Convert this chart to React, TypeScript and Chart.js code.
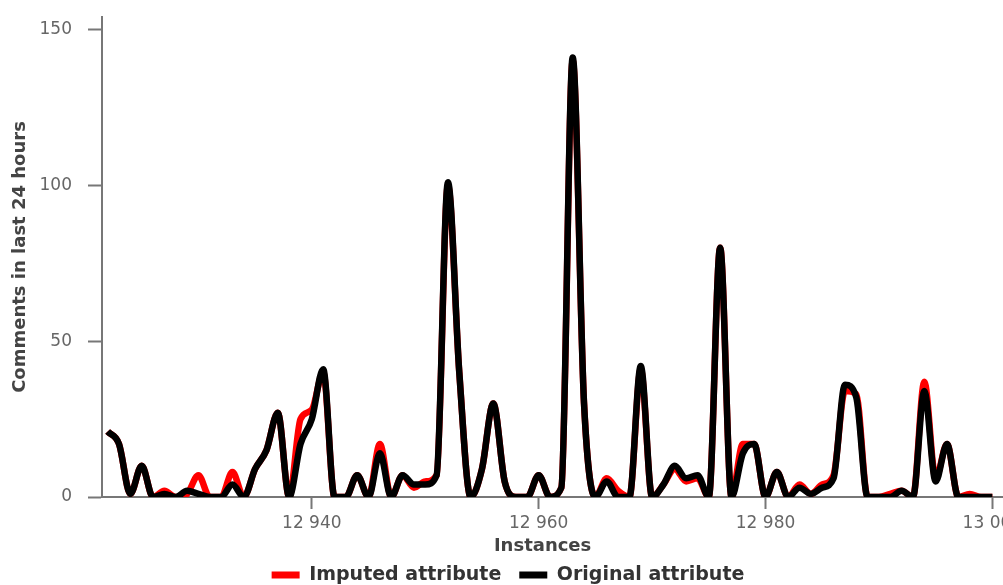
import React, { useEffect, useRef } from "react";
import { Chart, registerables } from "chart.js";

Chart.register(...registerables);

const firstInstance = 12922;
const imputedValues = [
  21, 17, 1, 10, 0, 2, 0, 1, 7, 0,
  0, 8, 0, 9, 15, 27, 0, 25, 28, 40,
  0, 0, 7, 0, 17, 0, 7, 3, 5, 7,
  100, 40, 0, 9, 30, 5, 0, 0, 7, 0,
  3, 140, 30, 0, 6, 2, 0, 41, 0, 4,
  9, 5, 6, 0, 80, 0, 17, 17, 0, 8,
  0, 4, 1, 4, 7, 34, 33, 0, 0, 1,
  2, 0, 37, 6, 17, 0, 1, 0, 0,
];
const originalValues = [
  21, 17, 1, 10, 0, 1, 0, 2, 1, 0,
  0, 4, 0, 9, 15, 27, 0, 17, 25, 41,
  0, 0, 7, 0, 14, 0, 7, 4, 4, 7,
  101, 40, 0, 9, 30, 5, 0, 0, 7, 0,
  3, 141, 30, 0, 5, 0, 0, 42, 0, 4,
  10, 6, 7, 0, 80, 0, 14, 17, 0, 8,
  0, 3, 1, 3, 6, 36, 32, 0, 0, 0,
  2, 0, 34, 5, 17, 0, 0, 0, 0,
];
const instances = originalValues.map((_, i) => firstInstance + i);
const xTicks = [12940, 12960, 12980, 13000];
const yTicks = [0, 50, 100, 150];
const seriesNames = ["Imputed attribute", "Original attribute"];
const seriesColors = ["#ff0000", "#000000"];

const fmt = (v: number) => {
  const s = String(Math.round(v));
  return s.replace(/\B(?=(\d{3})+(?!\d))/g, " ");
};

export default function App() {
  const ref = useRef<HTMLCanvasElement | null>(null);
  useEffect(() => {
    if (!ref.current) return;
    const font = "'DejaVu Sans', sans-serif";
    const chart = new Chart(ref.current, {
      type: "line",
      data: {
        datasets: [
          {
            label: seriesNames[0],
            data: instances.map((x, i) => ({ x, y: imputedValues[i] })),
            borderColor: seriesColors[0],
            backgroundColor: seriesColors[0],
            borderWidth: 6.5,
            pointRadius: 0,
            cubicInterpolationMode: "monotone",
            order: 1,
            clip: { left: 6, top: 6, right: 6, bottom: 0 },
          },
          {
            label: seriesNames[1],
            data: instances.map((x, i) => ({ x, y: originalValues[i] })),
            borderColor: seriesColors[1],
            backgroundColor: seriesColors[1],
            borderWidth: 6.5,
            pointRadius: 0,
            cubicInterpolationMode: "monotone",
            order: 0,
            clip: { left: 6, top: 6, right: 6, bottom: 0 },
          },
        ],
      },
      options: {
        animation: false,
        responsive: false,
        maintainAspectRatio: false,
        layout: { padding: { top: 17, right: 23, left: 14, bottom: -9.5 } },
        plugins: {
          tooltip: { enabled: false },
          legend: {
            position: "bottom",
            labels: {
              font: { family: font, size: 19, weight: "bold" },
              color: "#333",
              boxWidth: 28,
              boxHeight: 7,
              padding: 18,
              sort: (a: any, b: any) => a.datasetIndex - b.datasetIndex,
              generateLabels: (c: any) =>
                c.data.datasets.map((ds: any, i: number) => ({
                  text: ds.label,
                  fillStyle: ds.borderColor,
                  strokeStyle: ds.borderColor,
                  lineWidth: 0,
                  hidden: false,
                  datasetIndex: i,
                  fontColor: "#333",
                })),
            },
          },
        },
        scales: {
          x: {
            type: "linear",
            min: 12921.5,
            max: 13000.85,
            z: 1,
            afterBuildTicks: (s: any) => {
              s.ticks = xTicks.map((v) => ({ value: v }));
            },
            afterFit: (s: any) => {
              s.height = 50.5;
              s.paddingLeft = 0;
              s.paddingRight = 0;
            },
            grid: {
              drawOnChartArea: false,
              drawTicks: true,
              tickLength: 12,
              tickWidth: 2,
              tickColor: "#777",
            },
            border: { display: true, color: "#777", width: 2 },
            ticks: {
              font: { family: font, size: 17 },
              color: "#666",
              padding: 4,
              maxRotation: 0,
              callback: (v: any) => fmt(Number(v)),
            },
            title: {
              display: true,
              text: "Instances\u00a0\u00a0\u00a0",
              font: { family: font, size: 18, weight: "bold" },
              color: "#444",
              padding: { top: 2, bottom: -10 },
            },
          },
          y: {
            type: "linear",
            min: 0,
            max: 154,
            z: 1,
            afterBuildTicks: (s: any) => {
              s.ticks = yTicks.map((v) => ({ value: v }));
            },
            afterFit: (s: any) => {
              s.width = 88;
              s.paddingTop = 0;
              s.paddingBottom = 0;
            },
            grid: {
              drawOnChartArea: false,
              drawTicks: true,
              tickLength: 14,
              tickWidth: 2,
              tickColor: "#777",
            },
            border: { display: true, color: "#777", width: 2 },
            ticks: {
              font: { family: font, size: 17 },
              color: "#666",
              padding: 16,
            },
            title: {
              display: true,
              text: "Comments in last 24 hours",
              font: { family: font, size: 18, weight: "bold" },
              color: "#444",
              padding: { top: -4, bottom: 4 },
            },
          },
        },
      },
    });
    return () => chart.destroy();
  }, []);
  return (
    <div
      style={{
        position: "fixed",
        left: 0,
        top: 0,
        width: 1003,
        height: 585,
        overflow: "hidden",
        background: "#fff",
      }}
    >
      <canvas ref={ref} width={1025} height={585} style={{ display: "block" }} />
    </div>
  );
}
